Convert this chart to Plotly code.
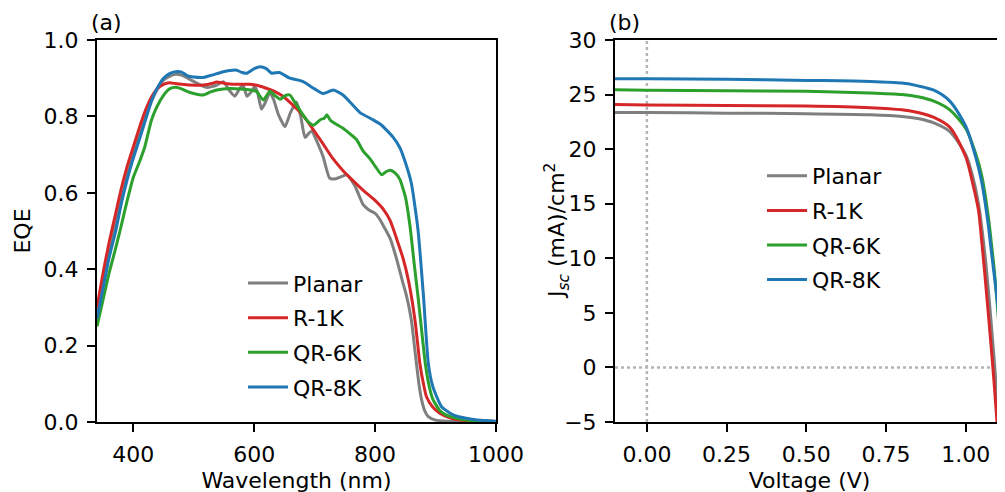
import plotly.graph_objects as go

# ---------------- EQE data (panel a) ----------------
series_names = ["Planar", "R-1K", "QR-6K", "QR-8K"]
series_colors = ["#7f7f7f", "#d62728", "#2ca02c", "#1f77b4"]

planar_wl = [340, 350, 360, 370, 380, 390, 400, 410, 420, 430, 440, 450, 460, 470, 480,
             490, 505, 521, 530, 538, 549, 558, 568, 576, 582, 588, 594, 601, 606, 612,
             618, 626, 632, 640, 651, 660, 670, 677, 684, 690, 695, 705, 714, 725, 735,
             745, 753, 760, 769, 780, 792, 800, 808, 815, 825, 835, 845, 852, 860, 865,
             869, 873, 877, 882, 888, 900, 920, 1000]
planar_eqe = [0.28, 0.36, 0.44, 0.51, 0.58, 0.645, 0.70, 0.75, 0.795, 0.84, 0.872, 0.895, 0.905, 0.91, 0.908,
              0.90, 0.887, 0.876, 0.878, 0.882, 0.891, 0.87, 0.853, 0.873, 0.88, 0.853, 0.862, 0.878, 0.86, 0.819,
              0.835, 0.863, 0.845, 0.805, 0.773, 0.81, 0.838, 0.80, 0.745, 0.755, 0.762, 0.73, 0.695, 0.638, 0.637,
              0.643, 0.647, 0.635, 0.61, 0.57, 0.553, 0.546, 0.53, 0.51, 0.48, 0.43, 0.37, 0.33, 0.267, 0.2,
              0.145, 0.095, 0.058, 0.03, 0.014, 0.005, 0.002, 0.001]

r1k_wl = [340, 350, 360, 370, 380, 390, 400, 410, 420, 430, 440, 450, 460, 470, 480,
          494, 516, 530, 538, 550, 565, 593, 610, 621, 635, 648, 665, 681, 698, 714,
          730, 747, 760, 780, 800, 814, 825, 836, 846, 855, 866, 874, 880, 885, 895,
          907, 925, 940, 1000]
r1k_eqe = [0.30, 0.39, 0.47, 0.54, 0.61, 0.67, 0.72, 0.77, 0.815, 0.85, 0.873, 0.884, 0.888, 0.886, 0.884,
           0.882, 0.882, 0.886, 0.89, 0.887, 0.884, 0.884, 0.879, 0.873, 0.864, 0.852, 0.828, 0.802, 0.765, 0.728,
           0.69, 0.658, 0.637, 0.607, 0.58, 0.556, 0.527, 0.478, 0.43, 0.372, 0.267, 0.154, 0.1, 0.066, 0.04,
           0.023, 0.01, 0.005, 0.001]

qr6k_wl = [340, 350, 360, 370, 378, 390, 400, 410, 419, 430, 439, 450, 460, 470, 480,
           490, 500, 516, 528, 538, 560, 582, 598, 604, 615, 626, 634, 643, 652, 659,
           666, 679, 690, 698, 710, 716, 720, 726, 735, 747, 758, 769, 780, 792, 800,
           811, 818, 825, 833, 841, 850, 858, 865, 871, 877, 883, 890, 896, 907, 918,
           935, 951, 1000]
qr6k_eqe = [0.25, 0.32, 0.39, 0.45, 0.50, 0.58, 0.64, 0.68, 0.72, 0.79, 0.825, 0.855, 0.872, 0.876, 0.872,
            0.865, 0.86, 0.856, 0.864, 0.869, 0.873, 0.871, 0.868, 0.865, 0.843, 0.866, 0.855, 0.845, 0.855, 0.856,
            0.84, 0.808, 0.785, 0.777, 0.792, 0.795, 0.804, 0.79, 0.78, 0.769, 0.755, 0.74, 0.71, 0.688, 0.67,
            0.647, 0.655, 0.659, 0.652, 0.635, 0.59, 0.51, 0.41, 0.328, 0.24, 0.154, 0.09, 0.058, 0.03, 0.018,
            0.01, 0.005, 0.001]

qr8k_wl = [340, 350, 360, 371, 380, 390, 400, 415, 420, 430, 440, 450, 460, 470, 480,
           490, 500, 516, 530, 549, 560, 571, 580, 588, 600, 610, 620, 629, 642, 650,
           659, 670, 681, 700, 714, 731, 747, 760, 775, 797, 810, 819, 830, 841, 850,
           860, 871, 880, 888, 895, 902, 910, 924, 940, 951, 970, 1000]
qr8k_eqe = [0.27, 0.35, 0.43, 0.50, 0.57, 0.635, 0.69, 0.764, 0.79, 0.84, 0.875, 0.90, 0.912, 0.917, 0.916,
            0.906, 0.903, 0.902, 0.908, 0.917, 0.92, 0.921, 0.915, 0.913, 0.925, 0.930, 0.925, 0.913, 0.915, 0.908,
            0.900, 0.896, 0.891, 0.872, 0.860, 0.869, 0.856, 0.835, 0.810, 0.791, 0.778, 0.764, 0.745, 0.718, 0.68,
            0.625, 0.503, 0.33, 0.154, 0.095, 0.066, 0.04, 0.023, 0.013, 0.01, 0.005, 0.002]

eqe_wl = [planar_wl, r1k_wl, qr6k_wl, qr8k_wl]
eqe_vals = [planar_eqe, r1k_eqe, qr6k_eqe, qr8k_eqe]

# ---------------- J-V data (panel b) ----------------
planar_v = [-0.1, 0.0, 0.25, 0.5, 0.7, 0.8, 0.85, 0.9, 0.95, 1.0, 1.02, 1.04, 1.06, 1.07, 1.08, 1.09, 1.1, 1.11]
planar_j = [23.35, 23.35, 23.3, 23.25, 23.15, 23.0, 22.8, 22.4, 21.6, 19.5, 17.7, 15.0, 10.4, 7.4, 4.0, 0.4, -3.6, -8.0]

r1k_v = [-0.1, 0.0, 0.25, 0.5, 0.7, 0.8, 0.85, 0.9, 0.95, 1.0, 1.02, 1.04, 1.05, 1.06, 1.07, 1.08, 1.09, 1.1]
r1k_j = [24.1, 24.05, 24.0, 23.95, 23.8, 23.6, 23.35, 22.9, 22.0, 19.3, 17.1, 14.4, 11.6, 8.5, 5.2, 1.8, -1.8, -5.8]

qr6k_v = [-0.1, 0.0, 0.25, 0.5, 0.7, 0.8, 0.85, 0.9, 0.95, 1.0, 1.03, 1.05, 1.07, 1.08, 1.09, 1.1, 1.11, 1.12, 1.13]
qr6k_j = [25.45, 25.4, 25.35, 25.3, 25.15, 25.0, 24.8, 24.4, 23.6, 21.9, 19.7, 17.6, 14.0, 11.5, 8.8, 5.4, 1.2, -4.0, -9.0]

qr8k_v = [-0.1, 0.0, 0.25, 0.5, 0.7, 0.8, 0.85, 0.9, 0.95, 1.0, 1.03, 1.05, 1.07, 1.08, 1.09, 1.1, 1.11, 1.12, 1.13]
qr8k_j = [26.45, 26.45, 26.4, 26.3, 26.2, 26.05, 25.8, 25.4, 24.4, 22.1, 19.4, 17.0, 13.2, 10.7, 8.3, 5.8, 2.7, -0.9, -5.5]

jv_v = [planar_v, r1k_v, qr6k_v, qr8k_v]
jv_j = [planar_j, r1k_j, qr6k_j, qr8k_j]

# axis settings
eqe_xticks = [400, 600, 800, 1000]
jv_xticks = [0.0, 0.25, 0.5, 0.75, 1.0]
ref_zero = 0

FONT = "DejaVu Sans"
FS = 22

fig = go.Figure()

for i, name in enumerate(series_names):
    fig.add_trace(go.Scatter(
        x=eqe_wl[i], y=eqe_vals[i], mode="lines", name=name,
        line=dict(color=series_colors[i], width=3, shape="spline", smoothing=0.5),
        xaxis="x", yaxis="y", legend="legend", legendgroup="a" + name,
    ))

for i, name in enumerate(series_names):
    fig.add_trace(go.Scatter(
        x=jv_v[i], y=jv_j[i], mode="lines", name=name,
        line=dict(color=series_colors[i], width=3, shape="spline", smoothing=0.8),
        xaxis="x2", yaxis="y2", legend="legend2", legendgroup="b" + name,
    ))

# dotted reference lines in panel (b)
fig.add_shape(type="line", xref="x2", yref="y2 domain", x0=ref_zero, x1=ref_zero, y0=0, y1=1,
              line=dict(color="#b5b5b5", width=2.5, dash="dot"), layer="below")
fig.add_shape(type="line", xref="x2 domain", yref="y2", x0=0, x1=1, y0=ref_zero, y1=ref_zero,
              line=dict(color="#b5b5b5", width=2.5, dash="dot"), layer="below")

axis_common = dict(
    showline=True, linecolor="black", linewidth=2, mirror=True,
    ticks="outside", ticklen=8, tickwidth=2, tickcolor="black",
    showgrid=False, zeroline=False, automargin=False,
    tickfont=dict(family=FONT, size=FS, color="black"),
    ticklabelstandoff=4,
)

fig.update_layout(
    template="none",
    width=1005, height=492, autosize=False,
    margin=dict(l=89, r=9, t=32, b=78, autoexpand=False),
    paper_bgcolor="white", plot_bgcolor="white",
    font=dict(family=FONT, size=FS, color="black"),
    xaxis=dict(domain=[0, 0.4399], range=[340, 1000], tickvals=eqe_xticks,
               title=dict(text="Wavelength (nm)", standoff=6, font=dict(family=FONT, size=FS)),
               anchor="y", **axis_common),
    yaxis=dict(domain=[0, 1], range=[0, 1], dtick=0.2, tick0=0, tickformat=".1f",
               title=dict(text="EQE", standoff=7, font=dict(family=FONT, size=FS)),
               anchor="x", **axis_common),
    xaxis2=dict(domain=[0.5711, 1], range=[-0.1, 1.12], tickvals=jv_xticks, tickformat=".2f",
                title=dict(text="Voltage (V)", standoff=6, font=dict(family=FONT, size=FS)),
                anchor="y2", **axis_common),
    yaxis2=dict(domain=[0, 1], range=[-5, 30], dtick=5, tick0=0,
                anchor="x2", **axis_common),
    legend=dict(x=0.161, y=0.418, xanchor="left", yanchor="top", bgcolor="rgba(0,0,0,0)",
                font=dict(family=FONT, size=FS), itemwidth=40, tracegroupgap=3, borderwidth=0),
    legend2=dict(x=0.7332, y=0.699, xanchor="left", yanchor="top", bgcolor="rgba(0,0,0,0)",
                 font=dict(family=FONT, size=FS), itemwidth=40, tracegroupgap=3, borderwidth=0),
    annotations=[
        dict(text="(a)", xref="x domain", yref="y domain", x=0, y=1, xanchor="left", yanchor="bottom",
             showarrow=False, font=dict(family=FONT, size=FS), xshift=-8, yshift=3),
        dict(text="(b)", xref="x2 domain", yref="y2 domain", x=0, y=1, xanchor="left", yanchor="bottom",
             showarrow=False, font=dict(family=FONT, size=FS), xshift=-8, yshift=3),
        dict(text="J<sub><i>sc</i></sub> (mA)/cm<sup>2</sup>", xref="x2 domain", yref="y2 domain",
             x=0, y=0.5, xanchor="right", yanchor="middle", textangle=-90, showarrow=False,
             font=dict(family=FONT, size=FS), xshift=-40),
    ],
)

fig.write_html("out.html")
